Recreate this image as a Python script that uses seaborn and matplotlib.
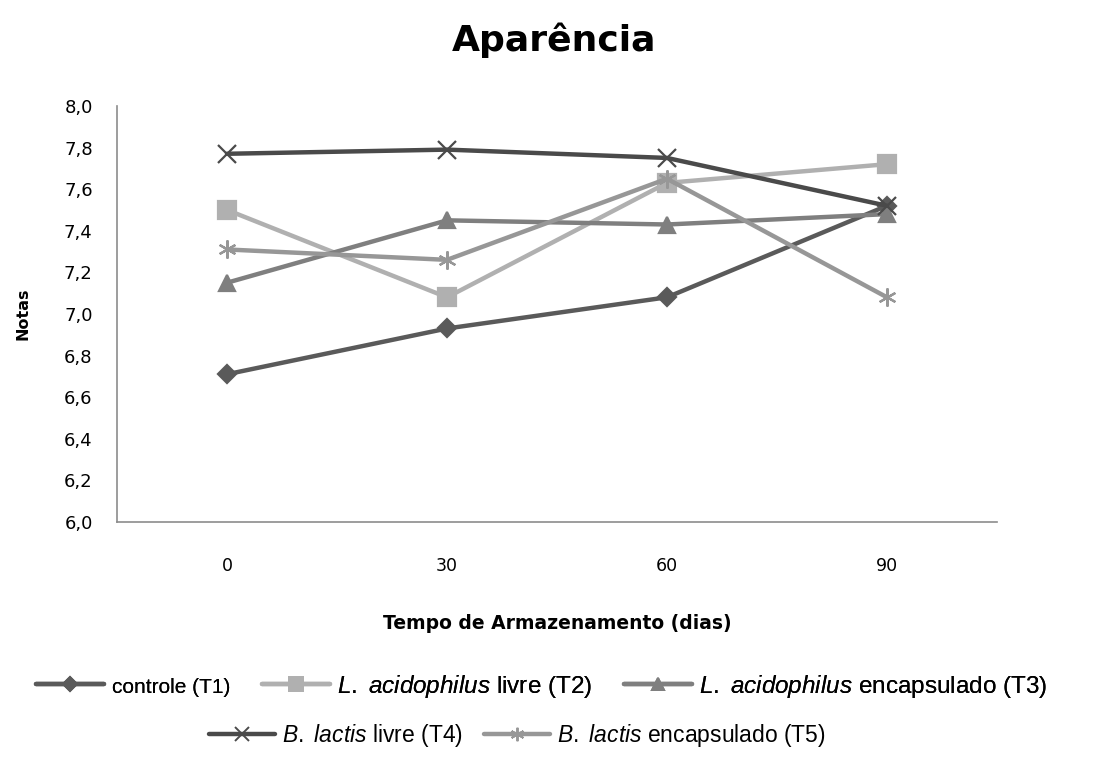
import matplotlib
matplotlib.use("Agg")
import matplotlib.pyplot as plt
import seaborn as sns
import pandas as pd
from matplotlib.lines import Line2D
from matplotlib.font_manager import FontProperties

# Storage time (days) and sensory scores for each treatment
dias = ["0", "30", "60", "90"]
controle_t1 = [6.71, 6.93, 7.08, 7.52]
acid_livre_t2 = [7.50, 7.08, 7.63, 7.72]
acid_encap_t3 = [7.15, 7.45, 7.43, 7.48]
lactis_livre_t4 = [7.77, 7.79, 7.75, 7.52]
lactis_encap_t5 = [7.31, 7.26, 7.65, 7.08]

nomes = ["controle (T1)", "L. acidophilus livre (T2)", "L. acidophilus encapsulado (T3)",
         "B. lactis livre (T4)", "B. lactis encapsulado (T5)"]
series = [controle_t1, acid_livre_t2, acid_encap_t3, lactis_livre_t4, lactis_encap_t5]

rotulos = [
    "controle (T1)",
    r"$\mathit{L.}$ $\mathit{acidophilus}$ livre (T2)",
    r"$\mathit{L.}$ $\mathit{acidophilus}$ encapsulado (T3)",
    r"$\mathit{B.}$ $\mathit{lactis}$ livre (T4)",
    r"$\mathit{B.}$ $\mathit{lactis}$ encapsulado (T5)",
]

cores = ["#5a5a5a", "#b0b0b0", "#7f7f7f", "#4a4a4a", "#979797"]
marcadores = ["D", "s", "^", "x", (6, 2, 0)]
tamanhos = [9, 13, 11, 13, 13]

linhas = []
for nome, vals in zip(nomes, series):
    for i, v in enumerate(vals):
        linhas.append({"pos": i, "nota": v, "tratamento": nome})
df = pd.DataFrame(linhas)

sns.set_theme(style="white")
plt.rcParams["font.family"] = ["DejaVu Sans"]
plt.rcParams["mathtext.fontset"] = "custom"
plt.rcParams["mathtext.it"] = "Liberation Sans:italic"
plt.rcParams["mathtext.rm"] = "Liberation Sans"

fig = plt.figure(figsize=(11.08, 7.79), dpi=100)
ax = fig.add_axes([0.1056, 0.330, 0.7942, 0.534])

for nome, cor, mk, ms in zip(nomes, cores, marcadores, tamanhos):
    sub = df[df["tratamento"] == nome]
    sns.lineplot(data=sub, x="pos", y="nota", ax=ax, color=cor, linewidth=3.2,
                 marker=mk, markersize=ms, markeredgecolor=cor, markeredgewidth=1.6,
                 legend=False)

ax.set_xlim(-0.5, 3.5)
ax.set_ylim(6.0, 8.0)
ax.set_yticks([6.0 + 0.2 * k for k in range(11)])
ax.set_yticklabels([f"{6.0 + 0.2 * k:.1f}".replace(".", ",") for k in range(11)])
ax.set_xticks(range(4))
ax.set_xticklabels(dias)
ax.set_xticks([-0.5, 0.5, 1.5, 2.5, 3.5], minor=True)
ax.tick_params(axis="x", which="major", length=0, pad=25, labelsize=12.5, colors="black")
ax.tick_params(axis="x", which="minor", length=6.5, width=1.2, color="#8c8c8c", direction="out")
ax.tick_params(axis="y", length=6.5, width=1.2, direction="out",
               labelsize=13, pad=11, labelcolor="black", color="#8c8c8c")
for s in ["top", "right"]:
    ax.spines[s].set_visible(False)
for s in ["left", "bottom"]:
    ax.spines[s].set_color("#8c8c8c")
    ax.spines[s].set_linewidth(1.2)

ax.set_xlabel("Tempo de Armazenamento (dias)", fontsize=13.5, fontweight="bold",
              labelpad=28, color="black")
ax.set_ylabel("Notas", fontsize=11.5, fontweight="bold", labelpad=24, color="black")

fig.text(0.5, 0.948, "Aparência", ha="center", va="center", fontsize=26,
         fontweight="bold", color="black")

handles = [Line2D([], [], color=c, lw=3.2, marker=m, markersize=s * 0.75,
                  markeredgecolor=c, markeredgewidth=1.4)
           for c, m, s in zip(cores, marcadores, tamanhos)]

fonte_leg = FontProperties(family=["Liberation Sans", "DejaVu Sans"], size=17.5)
leg1 = fig.legend(handles[:3], rotulos[:3], loc="center", bbox_to_anchor=(0.489, 0.119),
                  ncol=3, frameon=False, prop=fonte_leg, handlelength=2.8,
                  columnspacing=1.3, handletextpad=0.3, labelcolor="black")
leg1.get_texts()[0].set_fontsize(15)
fig.add_artist(leg1)

fonte_leg2 = FontProperties(family=["Liberation Sans", "DejaVu Sans"], size=16.5)
fig.legend(handles[3:], rotulos[3:], loc="center", bbox_to_anchor=(0.467, 0.056),
           ncol=2, frameon=False, prop=fonte_leg2, handlelength=2.9,
           columnspacing=0.9, handletextpad=0.3, labelcolor="black")

fig.savefig("out.png", dpi=100)
